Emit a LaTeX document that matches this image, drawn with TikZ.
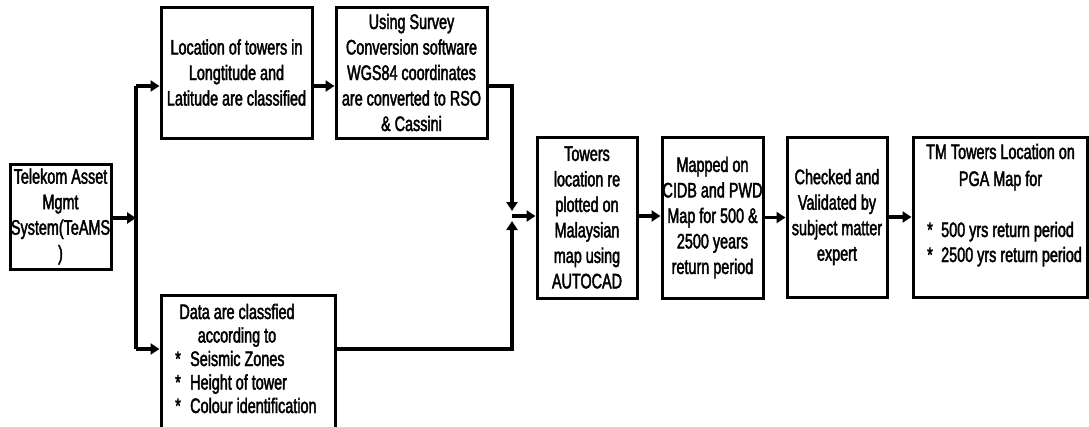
\documentclass[tikz,border=0pt]{standalone}
\usepackage{fontspec}
\setmainfont{Liberation Sans}[FakeStretch=0.685,FakeBold=2]
\usetikzlibrary{arrows.meta}
\begin{document}
\begin{tikzpicture}[x=1pt,y=-1pt,
  txt/.style={inner sep=0pt,align=center,font=\fontsize{21}{25.5}\selectfont},
  box/.style={draw,line width=3pt,inner sep=0pt,align=center,font=\fontsize{21}{25.5}\selectfont},
  conn/.style={line width=3.2pt},
  arr/.style={line width=3.2pt,-{Triangle[length=9pt,width=11pt]}},
  bl/.style={inner sep=0pt,anchor=base west,font=\fontsize{21}{25.5}\selectfont}]
\clip (0,0) rectangle (1089,426);
% boxes
\node[box,minimum width=101pt,minimum height=105pt] (teams) at (60.5,216.5)
  {Telekom Asset\\Mgmt\\System(TeAMS\\)};
\node[box,minimum width=151pt,minimum height=131pt] (loc) at (236.5,72.5)
  {Location of towers in\\Longtitude and\\Latitude are classified};
\node[box,minimum width=151pt,minimum height=131pt] (surv) at (411.5,72.5)
  {Using Survey\\Conversion software\\WGS84 coordinates\\are converted to RSO\\\& Cassini};
\node[box,minimum width=174pt,minimum height=150pt] (data) at (248,370) {};
\node[box,minimum width=100pt,minimum height=161pt] (tow) at (587,217.5)
  {Towers\\location re\\plotted on\\Malaysian\\map using\\AUTOCAD};
\node[box,minimum width=101pt,minimum height=161pt] (map) at (712.5,217.5)
  {Mapped on\\CIDB and PWD\\Map for 500 \&\\2500 years\\return period};
\node[box,minimum width=100pt,minimum height=160pt] (chk) at (837,217)
  {Checked and\\Validated by\\subject matter\\expert};
\node[box,minimum width=174pt,minimum height=160pt] (tm) at (1000,217) {};
% data box text
\node[txt,anchor=base] (d1) at (237,319) {Data are classfied};
\node[txt,anchor=base] (d2) at (237,342.5) {according to};
\node[bl] (s1) at (175,366) {*};
\node[bl] (d3) at (190,366) {Seismic Zones};
\node[bl] (s2) at (175,389.5) {*};
\node[bl] (d4) at (190,389.5) {Height of tower};
\node[bl] (s3) at (175,413) {*};
\node[bl] (d5) at (190,413) {Colour identification};
% TM box text
\node[txt,anchor=base] (t1) at (1000.5,159) {TM Towers Location on};
\node[txt,anchor=base] (t2) at (1000.5,186) {PGA Map for};
\node[bl] (s4) at (927,237) {*};
\node[bl] (t3) at (941,237) {500 yrs return period};
\node[bl] (s5) at (927,262) {*};
\node[bl] (t4) at (941,262) {2500 yrs return period};
% connectors
\coordinate (top) at (136,86);
\coordinate (bot) at (136,349);
\coordinate (jl) at (136,218);
\coordinate (mtop) at (512,211);
\coordinate (mbot) at (512,221);
\coordinate (mj) at (512,216);
\draw[conn] (top) -- (bot);
\draw[arr] (teams.east |- jl) -- (jl);
\draw[arr] (top) -- (top -| loc.west);
\draw[arr] (top -| loc.east) -- (top -| surv.west);
\draw[arr] (top -| surv.east) -| (mtop);
\draw[arr] (bot) -- (bot -| data.west);
\draw[arr] (bot -| data.east) -| (mbot);
\draw[arr] (mj) -- (mj -| tow.west);
\draw[arr] (tow.east |- mj) -- (map.west |- mj);
\draw[arr] (map.east) -- (chk.west |- map.east);
\draw[arr] (chk.east) -- (tm.west);
\end{tikzpicture}
\end{document}
